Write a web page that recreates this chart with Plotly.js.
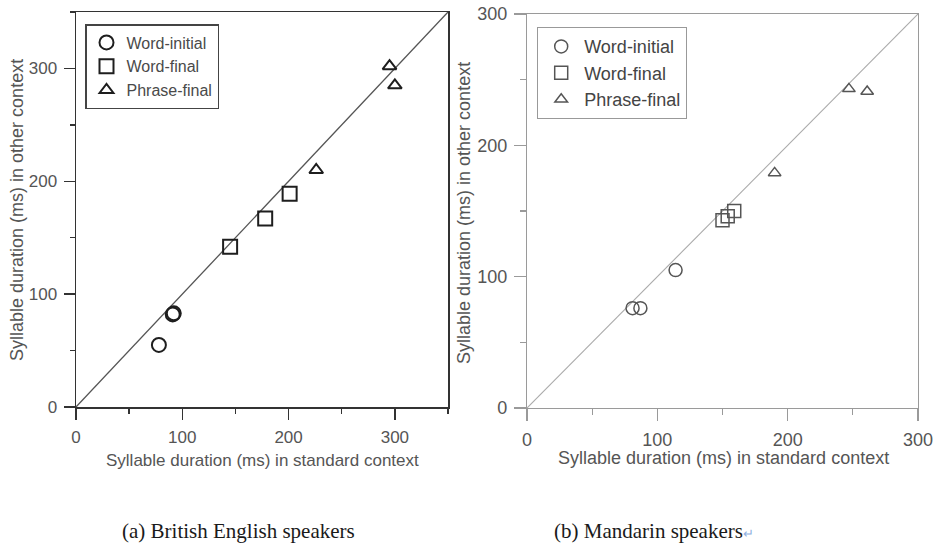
<!DOCTYPE html>
<html>
<head>
<meta charset="utf-8">
<script src="https://cdn.plot.ly/plotly-3.0.1.min.js"></script>
<style>html,body{margin:0;padding:0;background:#fff;}#chart{width:936px;height:544px;}</style>
</head>
<body>
<div id="chart"></div>
<script>
// (a) British English speakers
const engStdInitial = [78, 91, 92];
const engOthInitial = [55, 82, 83];
const engStdFinal = [145, 178, 201];
const engOthFinal = [142, 167, 189];
const engStdPhrase = [226, 295, 300];
const engOthPhrase = [210, 302, 285];
const engDiag = [0, 350];

// (b) Mandarin speakers
const manStdInitial = [81, 87, 114];
const manOthInitial = [76, 76, 105];
const manStdFinal = [150, 154, 159];
const manOthFinal = [143, 146, 150];
const manStdPhrase = [190, 247, 261];
const manOthPhrase = [179, 243, 241];
const manDiag = [0, 300];

const seriesNames = ['Word-initial', 'Word-final', 'Phrase-final'];
const xTitle = 'Syllable duration (ms) in standard context';
const yTitle = 'Syllable duration (ms) in other context';
const captionA = '(a) British English speakers';
const captionB = '(b) Mandarin speakers';

const W = 936, H = 544;
const px = v => v / W;
const py = v => 1 - v / H;

const leftCol = '#333', rightCol = '#9a9a9a';
const sans = 'Liberation Sans, Arial, sans-serif';
const serif = 'Liberation Serif, Times New Roman, serif';

function mk(x, y, name, sym, xa, ya, leg, col, lw, size) {
  return {type: 'scatter', mode: 'markers', x: x, y: y, name: name,
    xaxis: xa, yaxis: ya, legend: leg,
    marker: {symbol: sym, size: size, color: col, line: {color: col, width: lw}}};
}

const traces = [
  {type: 'scatter', mode: 'lines', x: engDiag, y: engDiag, xaxis: 'x', yaxis: 'y',
   line: {color: '#555', width: 1.3}, showlegend: false, hoverinfo: 'skip'},
  mk(engStdInitial, engOthInitial, seriesNames[0], 'circle-open', 'x', 'y', 'legend', '#1e1e1e', 2, 14),
  mk(engStdFinal, engOthFinal, seriesNames[1], 'square-open', 'x', 'y', 'legend', '#1e1e1e', 2, 14),
  mk(engStdPhrase, engOthPhrase, seriesNames[2], 'triangle-up-open', 'x', 'y', 'legend', '#1e1e1e', 2, 12),
  {type: 'scatter', mode: 'lines', x: manDiag, y: manDiag, xaxis: 'x2', yaxis: 'y2',
   line: {color: '#aaa', width: 1.1}, showlegend: false, hoverinfo: 'skip'},
  mk(manStdInitial, manOthInitial, seriesNames[0], 'circle-open', 'x2', 'y2', 'legend2', '#555', 1.5, 13),
  mk(manStdFinal, manOthFinal, seriesNames[1], 'square-open', 'x2', 'y2', 'legend2', '#555', 1.5, 13),
  mk(manStdPhrase, manOthPhrase, seriesNames[2], 'triangle-up-open', 'x2', 'y2', 'legend2', '#555', 1.5, 11)
];

function axis(domain, range, col, lw, tlen, mlen, fsize, fcol, anchor) {
  return {domain: domain, range: range, anchor: anchor, tick0: 0, dtick: 100,
    ticks: 'outside', ticklen: tlen, tickwidth: lw, tickcolor: col,
    showline: true, linecolor: col, linewidth: lw, mirror: true,
    showgrid: false, zeroline: false, fixedrange: true, ticklabelstandoff: 3,
    tickfont: {family: sans, size: fsize, color: fcol},
    minor: {dtick: 50, tick0: 0, ticks: 'outside', ticklen: mlen, tickwidth: lw, tickcolor: col, showgrid: false}};
}

const layout = {
  width: W, height: H,
  margin: {l: 0, r: 0, t: 0, b: 0},
  paper_bgcolor: '#fff', plot_bgcolor: '#fff',
  xaxis: axis([px(76), px(448)], [0, 350], leftCol, 1.5, 11, 5, 17, '#555', 'y'),
  yaxis: axis([py(407), py(12)], [0, 350], leftCol, 1.5, 11, 5, 17, '#555', 'x'),
  xaxis2: axis([px(527), px(918)], [0, 300], rightCol, 1.2, 12, 6, 18, '#555', 'y2'),
  yaxis2: axis([py(408), py(14)], [0, 300], rightCol, 1.2, 12, 6, 18, '#555', 'x2'),
  legend: {x: px(85), y: py(24), xanchor: 'left', yanchor: 'top',
    bordercolor: '#444', borderwidth: 1.5, bgcolor: '#fff',
    font: {family: sans, size: 16, color: '#4a4a4a'}, tracegroupgap: 0},
  legend2: {x: px(537), y: py(27), xanchor: 'left', yanchor: 'top',
    bordercolor: '#999', borderwidth: 1.2, bgcolor: '#fff', itemwidth: 36,
    font: {family: sans, size: 18, color: '#444'}, tracegroupgap: 0},
  annotations: [
    {text: xTitle, xref: 'paper', yref: 'paper', x: px(262), y: py(460), xanchor: 'center', yanchor: 'middle',
     showarrow: false, font: {family: sans, size: 17, color: '#555'}},
    {text: yTitle, xref: 'paper', yref: 'paper', x: px(17), y: py(210), xanchor: 'center', yanchor: 'middle',
     textangle: -90, showarrow: false, font: {family: sans, size: 18, color: '#555'}},
    {text: xTitle, xref: 'paper', yref: 'paper', x: px(723), y: py(458), xanchor: 'center', yanchor: 'middle',
     showarrow: false, font: {family: sans, size: 18, color: '#555'}},
    {text: yTitle, xref: 'paper', yref: 'paper', x: px(464), y: py(213), xanchor: 'center', yanchor: 'middle',
     textangle: -90, showarrow: false, font: {family: sans, size: 18, color: '#555'}},
    {text: captionA, xref: 'paper', yref: 'paper', x: px(239), y: py(531), xanchor: 'center', yanchor: 'middle',
     showarrow: false, font: {family: serif, size: 21, color: '#1a1a1a'}},
    {text: captionB + '<span style="color:#8fb0e0;font-size:13px">\u21B5</span>', xref: 'paper', yref: 'paper',
     x: px(552), y: py(531), xanchor: 'left', yanchor: 'middle',
     showarrow: false, font: {family: serif, size: 21, color: '#1a1a1a'}}
  ]
};

Plotly.newPlot('chart', traces, layout, {displayModeBar: false, staticPlot: true});
</script>
</body>
</html>
